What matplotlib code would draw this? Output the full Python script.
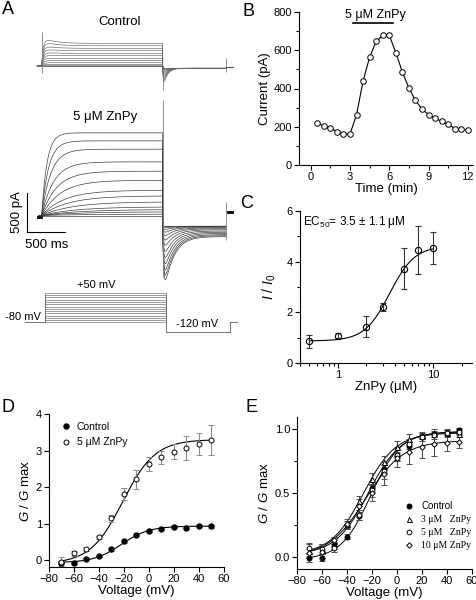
import numpy as np
import matplotlib
matplotlib.use('Agg')
import matplotlib.pyplot as plt
from matplotlib.ticker import MultipleLocator, FixedLocator, FixedFormatter, NullFormatter

plt.rcParams['font.family'] = ['Liberation Sans', 'DejaVu Sans']
plt.rcParams['mathtext.fontset'] = 'custom'
plt.rcParams['mathtext.rm'] = 'Liberation Sans'
plt.rcParams['mathtext.it'] = 'Liberation Sans:italic'
plt.rcParams['axes.linewidth'] = 0.8

W, H = 477, 600

# ---- Panel A: step protocol and current amplitudes (pA)
step_mv = [50, 40, 30, 20, 10, 0, -10, -20, -30, -40, -50, -60, -70, -80]
znpy_steady = [1060, 957, 850, 688, 568, 452, 324, 252, 175, 111, 77, 47, 17, 0]
znpy_tau = [70, 90, 120, 160, 200, 250, 300, 350, 400, 450, 500, 500, 500, 500]
znpy_tail = [615, 560, 500, 430, 360, 290, 220, 160, 110, 70, 40, 20, 8, 0]
ctrl_steady = [286, 256, 222, 192, 158, 128, 94, 64, 38, 17, 4, 0, 0, 0]
ctrl_peak = [85, 60, 40, 25, 15, 8, 4, 2, 0, 0, 0, 0, 0, 0]
ctrl_tail = [172, 150, 125, 100, 80, 60, 42, 28, 16, 8, 3, 0, 0, 0]
step_ms = 1600
tail_ms = 840

# ---- Panel B: time course
b_time = [0.5, 1.0, 1.5, 2.0, 2.5, 3.0, 3.5, 4.0, 4.5, 5.0, 5.5, 6.0,
          6.5, 7.0, 7.5, 8.0, 8.5, 9.0, 9.5, 10.0, 10.5, 11.0, 11.5, 12.0]
b_current = [218, 205, 192, 175, 162, 162, 263, 440, 564, 646, 678, 678,
             588, 486, 402, 338, 293, 263, 246, 228, 213, 190, 187, 181]
b_bar = [3.25, 6.3]

# ---- Panel C: dose response
c_conc = [0.5, 1, 2, 3, 5, 7, 10]
c_ratio = [0.86, 1.07, 1.44, 2.2, 3.72, 4.45, 4.55]
c_err = [0.25, 0.1, 0.42, 0.15, 0.8, 0.95, 0.64]
c_hill = dict(bottom=0.87, top=4.62, ec50=3.5, n=3.3)

# ---- Panel D: G-V, control vs 5 uM ZnPy
v_mv = [-70, -60, -50, -40, -30, -20, -10, 0, 10, 20, 30, 40, 50]
d_ctrl = [-0.07, -0.07, 0.03, 0.12, 0.29, 0.51, 0.68, 0.79, 0.84, 0.91, 0.89, 0.94, 0.92]
d_ctrl_err = [0.04, 0.03, 0.03, 0.03, 0.03, 0.03, 0.03, 0.03, 0.03, 0.04, 0.04, 0.03, 0.04]
d_znpy = [-0.04, 0.18, 0.29, 0.62, 1.14, 1.81, 2.21, 2.63, 2.81, 2.97, 3.08, 3.18, 3.29]
d_znpy_err = [0.12, 0.06, 0.04, 0.05, 0.1, 0.17, 0.27, 0.2, 0.18, 0.21, 0.33, 0.3, 0.4]
d_fit_ctrl = dict(bottom=-0.07, top=0.93, vh=-22, k=11)
d_fit_znpy = dict(bottom=-0.1, top=3.3, vh=-21, k=13)

# ---- Panel E: normalised G-V at several ZnPy concentrations
e_labels = ['Control', '3 \u03bcM   ZnPy', '5 \u03bcM   ZnPy', '10 \u03bcM ZnPy']
e_vals = [
    [-0.01, -0.005, 0.083, 0.16, 0.32, 0.54, 0.69, 0.79, 0.87, 0.94, 0.96, 0.97, 0.99],
    [0.05, 0.06, 0.13, 0.255, 0.44, 0.61, 0.74, 0.86, 0.92, 0.95, 0.97, 0.97, 0.96],
    [0.07, 0.06, 0.07, 0.25, 0.33, 0.52, 0.67, 0.80, 0.88, 0.94, 0.955, 0.97, 0.98],
    [0.03, 0.04, 0.13, 0.26, 0.40, 0.50, 0.65, 0.77, 0.82, 0.86, 0.88, 0.89, 0.90],
]
e_errs = [
    [0.03, 0.03, 0.02, 0.02, 0.03, 0.03, 0.03, 0.03, 0.03, 0.02, 0.02, 0.02, 0.02],
    [0.05, 0.04, 0.03, 0.03, 0.04, 0.05, 0.05, 0.05, 0.04, 0.03, 0.03, 0.03, 0.02],
    [0.04, 0.04, 0.03, 0.03, 0.04, 0.05, 0.06, 0.05, 0.04, 0.03, 0.03, 0.02, 0.02],
    [0.04, 0.05, 0.03, 0.04, 0.05, 0.06, 0.09, 0.07, 0.09, 0.09, 0.09, 0.06, 0.05],
]
e_fits = [
    dict(bottom=-0.02, top=0.98, vh=-21, k=12),
    dict(bottom=0.02, top=0.97, vh=-27, k=13),
    dict(bottom=0.02, top=0.98, vh=-23, k=13),
    dict(bottom=0.0, top=0.91, vh=-25, k=15),
]
e_markers = [('o', 'black'), ('^', 'white'), ('o', 'white'), ('D', 'white')]
e_sizes = [3.6, 3.6, 3.4, 2.8]


def boltz(v, p):
    return p['bottom'] + (p['top'] - p['bottom']) / (1 + np.exp((p['vh'] - v) / p['k']))


def px(x, y):
    return x / W, 1 - y / H


def axes_px(fig, left, top, right, bottom):
    return fig.add_axes([left / W, 1 - bottom / H, (right - left) / W, (bottom - top) / H])


def axes_scaled(fig, x0, y0, sx, sy, xlim, ylim):
    # (x0, y0): pixel of data origin; sx, sy: pixels per data unit
    left = x0 + xlim[0] * sx
    right = x0 + xlim[1] * sx
    top = y0 - ylim[1] * sy
    bottom = y0 - ylim[0] * sy
    ax = axes_px(fig, left, top, right, bottom)
    ax.set_xlim(xlim)
    ax.set_ylim(ylim)
    ax.axis('off')
    return ax


def style(ax):
    for s in ['top', 'right']:
        ax.spines[s].set_visible(False)
    ax.tick_params(direction='out', length=3.5, width=0.8, labelsize=8, pad=1.5)
    ax.tick_params(which='minor', direction='out', length=2, width=0.8)


fig = plt.figure(figsize=(W / 100, H / 100), dpi=100)

SX = 121 / step_ms
SY = 39 / 500

# ---- A: control traces
t_step = np.linspace(0, step_ms, 400)
t_tail = np.linspace(0, tail_ms, 300)
axc = axes_scaled(fig, 41.7, 65.7, SX, SY, (-250, 2550), (-400, 500))
for ss, pk, ta in zip(ctrl_steady, ctrl_peak, ctrl_tail):
    i1 = ss * (1 - np.exp(-t_step / 25)) + pk * np.exp(-t_step / 150) * (1 - np.exp(-t_step / 10))
    shape = np.exp(-t_tail / 50) - np.exp(-t_tail / 8)
    shape = shape / shape.max()
    i2 = -33 - ta * shape
    t = np.concatenate([[-60, 0], t_step, step_ms + t_tail])
    i = np.concatenate([[0, 0], i1, i2])
    axc.plot(t, i, color='0.4', lw=0.45)
axc.vlines([0, step_ms, step_ms + tail_ms], [-94, -311, -81], [432, -30, 99], color='0.5', lw=0.6)
axc.plot([step_ms + tail_ms, step_ms + tail_ms + 90], [-13, -13], color='0.3', lw=0.8)

# ---- A: ZnPy traces
axz = axes_scaled(fig, 41.7, 215.5, SX, SY, (-250, 2550), (-850, 1550))
for ss, tau, ta in zip(znpy_steady, znpy_tau, znpy_tail):
    i1 = ss * (1 - np.exp(-t_step / tau))
    shape = np.exp(-t_tail / 120) - np.exp(-t_tail / 12)
    shape = shape / shape.max()
    i2 = -135 - 0.22 * ta * (1 - np.exp(-t_tail / 40)) - ta * shape
    t = np.concatenate([[-40, 0], t_step, step_ms + t_tail])
    i = np.concatenate([[0, 0], i1, i2])
    axz.plot(t, i, color='0.25', lw=0.5)
axz.vlines([step_ms, step_ms + tail_ms], [-790, -314], [1480, 173], color='0.5', lw=0.6)
axz.plot([-50, -5], [-20, -20], color='black', lw=2)
axz.plot([step_ms + tail_ms + 20, step_ms + tail_ms + 80], [45, 45], color='black', lw=2)
# scale bar 500 ms / 500 pA
axz.plot([-194, -194, 306], [288, -212, -212], color='black', lw=0.8, clip_on=False)
fig.text(*px(17, 212), '500 pA', rotation=90, ha='center', va='center', fontsize=9.5)
fig.text(*px(47, 245), '500 ms', ha='center', va='center', fontsize=9.5)
fig.text(*px(120, 22), 'Control', ha='center', va='center', fontsize=9.5)
fig.text(*px(105, 117), '5 \u03bcM ZnPy', ha='center', va='center', fontsize=9.5)

# ---- A: voltage protocol
axp = axes_scaled(fig, 45, 304.3, SX, 0.227, (-300, 2600), (-125, 55))
for v in step_mv:
    axp.plot([-265, 0, 0, step_ms, step_ms, 2450, 2450, 2540],
             [-80, -80, v, v, -120, -120, -80, -80], color='0.45', lw=0.5)
fig.text(*px(96, 285), '+50 mV', ha='center', va='center', fontsize=8)
fig.text(*px(23, 317), '-80 mV', ha='center', va='center', fontsize=8)
fig.text(*px(197, 324), '-120 mV', ha='center', va='center', fontsize=8)

# ---- B
axb = axes_px(fig, 299, 12, 473, 165)
style(axb)
axb.plot(b_time, b_current, '-o', color='black', lw=0.8, ms=4.0, mfc='white', mec='black', mew=0.7)
axb.set_xlim(-0.9, 12.4)
axb.set_ylim(0, 800)
axb.set_xticks([0, 3, 6, 9, 12])
axb.xaxis.set_minor_locator(MultipleLocator(1.5))
axb.set_yticks([0, 200, 400, 600, 800])
axb.yaxis.set_minor_locator(MultipleLocator(100))
axb.plot(b_bar, [745, 745], color='black', lw=1.2, clip_on=False)
fig.text(*px(375, 15), '5 \u03bcM ZnPy', ha='center', va='center', fontsize=9)
axb.set_xlabel('Time (min)', fontsize=9.5, labelpad=1)
axb.set_ylabel('Current (pA)', fontsize=9.5, labelpad=2)

# ---- C
axcc = axes_px(fig, 300, 211, 472, 363)
style(axcc)
axcc.set_xscale('log')
xc = np.logspace(np.log10(c_conc[0]), np.log10(c_conc[-1]), 200)
yc = c_hill['bottom'] + (c_hill['top'] - c_hill['bottom']) / (1 + (c_hill['ec50'] / xc) ** c_hill['n'])
axcc.plot(xc, yc, color='black', lw=0.8)
axcc.errorbar(c_conc, c_ratio, yerr=c_err, fmt='o', ms=4.5, mfc='none', mec='black', mew=0.8,
              ecolor='0.2', elinewidth=0.8, capsize=2.5, capthick=0.8)
axcc.set_xlim(0.4, 25.7)
axcc.set_ylim(0, 6)
axcc.set_yticks([0, 2, 4, 6])
axcc.yaxis.set_minor_locator(FixedLocator([1, 3, 5]))
axcc.xaxis.set_major_locator(FixedLocator([1, 10]))
axcc.xaxis.set_major_formatter(FixedFormatter(['1', '10']))
axcc.xaxis.set_minor_formatter(NullFormatter())
axcc.text(0.02, 0.93, 'EC$_{50}$= 3.5 $\\pm$ 1.1 \u03bcM',
          transform=axcc.transAxes, fontsize=8.5, va='center')
axcc.set_xlabel('ZnPy (\u03bcM)', fontsize=9.5, labelpad=1)
axcc.set_ylabel(r'$I$ / $I_0$', fontsize=10, labelpad=6)

# ---- D
axd = axes_px(fig, 49, 414, 224, 567)
style(axd)
vv = np.linspace(-70, 50, 200)
axd.plot(vv, boltz(vv, d_fit_ctrl), color='black', lw=0.8)
axd.plot(vv, boltz(vv, d_fit_znpy), color='black', lw=0.8)
axd.errorbar(v_mv, d_ctrl, yerr=d_ctrl_err, fmt='o', ms=3.6, mfc='black', mec='black',
             ecolor='0.55', elinewidth=0.8, capsize=2, capthick=0.8, label='Control')
axd.errorbar(v_mv, d_znpy, yerr=d_znpy_err, fmt='o', ms=3.6, mfc='white', mec='black', mew=0.7,
             ecolor='0.55', elinewidth=0.8, capsize=2, capthick=0.8, label='5 \u03bcM ZnPy')
axd.set_xlim(-80, 60)
axd.set_ylim(-0.19, 4)
axd.set_xticks([-80, -60, -40, -20, 0, 20, 40, 60])
axd.set_yticks([0, 1, 2, 3, 4])
h, l = axd.get_legend_handles_labels()
hd = [hh[0] for hh in h]
axd.legend(hd, l, loc='upper left', bbox_to_anchor=(0.07, 0.95), frameon=False, fontsize=7.5,
           handlelength=1, handletextpad=0.5, borderpad=0, borderaxespad=0, labelspacing=0.55)
axd.set_xlabel('Voltage (mV)', fontsize=9.5, labelpad=1)
axd.set_ylabel(r'$G$ / $G$ max', fontsize=9.5, labelpad=3)

# ---- E
axe = axes_px(fig, 297, 417, 472, 569)
style(axe)
handles = []
for vals, errs, fit, (mk, fc), sz, lab in zip(e_vals, e_errs, e_fits, e_markers, e_sizes, e_labels):
    axe.plot(vv, boltz(vv, fit), color='black', lw=0.7)
    eb = axe.errorbar(v_mv, vals, yerr=errs, fmt=mk, ms=sz, mfc=fc, mec='black', mew=0.7,
                      ecolor='0.3', elinewidth=0.8, capsize=2, capthick=0.8, label=lab)
    handles.append(eb[0])
axe.set_xlim(-80, 60)
axe.set_ylim(-0.094, 1.094)
axe.set_xticks([-80, -60, -40, -20, 0, 20, 40, 60])
axe.set_yticks([0.0, 0.5, 1.0])
axe.set_yticklabels(['0.0', '0.5', '1.0'])
axe.yaxis.set_minor_locator(FixedLocator([0.25, 0.75]))
leg = axe.legend(handles, e_labels, loc='upper left', bbox_to_anchor=(0.62, 0.445), frameon=False,
                 fontsize=7, handlelength=0.8, handletextpad=0.8, borderpad=0, borderaxespad=0,
                 labelspacing=0.4)
for tx in leg.get_texts()[1:]:
    tx.set_family('Liberation Serif')
axe.set_xlabel('Voltage (mV)', fontsize=9.5, labelpad=1)
axe.set_ylabel(r'$G$ / $G$ max', fontsize=9.5, labelpad=3)

# panel letters
for lab, (x, y) in zip('ABCDE', [(8, 10), (249, 12), (247, 203), (8, 408), (252, 408)]):
    fig.text(*px(x, y), lab, ha='center', va='center', fontsize=13)

fig.savefig('out.png', dpi=100)
